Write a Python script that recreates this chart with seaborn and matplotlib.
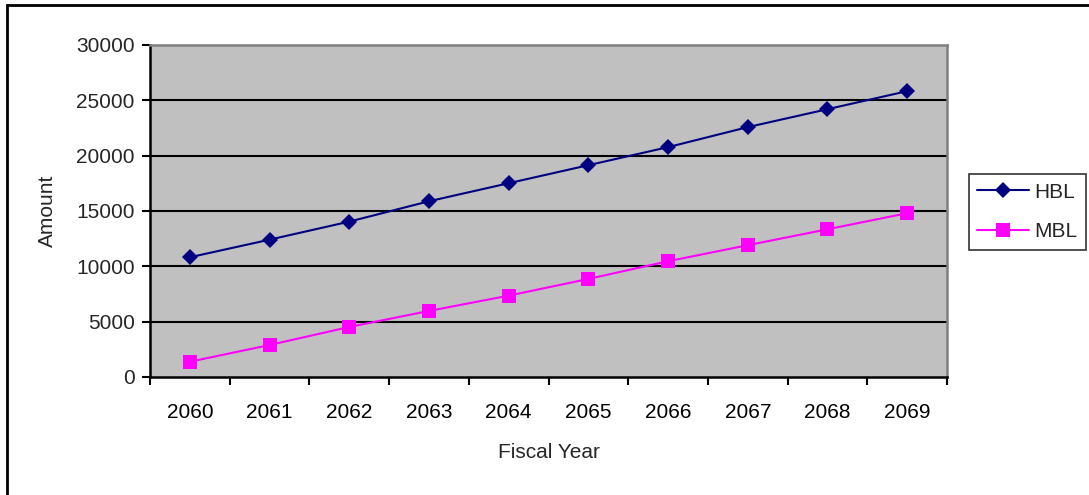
import matplotlib
matplotlib.use("Agg")
import matplotlib.pyplot as plt
from matplotlib.patches import Rectangle
from matplotlib.ticker import FixedLocator
import numpy as np
import pandas as pd
import seaborn as sns

years = [2060, 2061, 2062, 2063, 2064, 2065, 2066, 2067, 2068, 2069]
hbl = [10820, 12410, 14040, 15880, 17510, 19140, 20770, 22580, 24200, 25830]
mbl = [1380, 2890, 4520, 5970, 7350, 8860, 10460, 11910, 13350, 14800]
series_names = ["HBL", "MBL"]
y_ticks = [0, 5000, 10000, 15000, 20000, 25000, 30000]

sns.set_theme(style="white")
plt.rcParams["font.family"] = ["Liberation Sans", "DejaVu Sans"]
FS = 15

pos = np.arange(len(years))
df = pd.DataFrame({
    "pos": np.concatenate([pos, pos]),
    "Amount": hbl + mbl,
    "series": [series_names[0]] * len(years) + [series_names[1]] * len(years),
})

fig = plt.figure(figsize=(10.89, 4.95), dpi=100)
ax = fig.add_axes([150 / 1089, 1 - 377 / 495, 797 / 1089, 332 / 495])
ax.set_facecolor("#C0C0C0")

sns.lineplot(
    data=df, x="pos", y="Amount", hue="series", style="series",
    palette={"HBL": "#000080", "MBL": "#FF00FF"},
    markers={"HBL": "D", "MBL": "s"}, dashes=False,
    markersize=8, linewidth=1.5, markeredgewidth=0, ax=ax, legend=True,
)
# slightly larger squares for the MBL series
for line in ax.lines:
    if line.get_marker() == "s":
        line.set_markersize(9.5)

ax.set_xlim(-0.5, len(years) - 0.5)
ax.set_ylim(0, 30000)
ax.set_yticks(y_ticks)
ax.set_yticklabels([str(v) for v in y_ticks], fontsize=FS)
ax.set_xticks(pos)
ax.set_xticklabels([str(y) for y in years], fontsize=FS)
ax.xaxis.set_minor_locator(FixedLocator(np.arange(-0.5, len(years), 1.0)))
ax.tick_params(axis="x", which="major", length=0, pad=19, colors="black")
ax.tick_params(axis="x", which="minor", length=6, width=1.5, direction="out", color="black", bottom=True)
ax.tick_params(axis="y", length=6, width=1.5, direction="out", color="black", left=True, pad=5)

for y in y_ticks[1:-1]:
    ax.axhline(y, color="black", linewidth=1.5, zorder=1)

ax.spines["left"].set_color("black")
ax.spines["left"].set_linewidth(1.8)
ax.spines["bottom"].set_color("black")
ax.spines["bottom"].set_linewidth(1.8)
ax.spines["top"].set_color("#808080")
ax.spines["top"].set_linewidth(1.8)
ax.spines["right"].set_color("#808080")
ax.spines["right"].set_linewidth(1.8)

ax.set_xlabel("Fiscal Year", fontsize=FS, labelpad=15)
ax.set_ylabel("Amount", fontsize=FS, labelpad=14)

handles, labels = ax.get_legend_handles_labels()
for h in handles:
    if h.get_marker() == "s":
        h.set_markersize(9.5)
leg = ax.legend(
    handles, labels, loc="center left", bbox_to_anchor=(969 / 1089, 1 - 212 / 495),
    bbox_transform=fig.transFigure, frameon=True, fancybox=False, fontsize=FS,
    handlelength=2.5, borderpad=0.4, labelspacing=1.0, handletextpad=0.25,
    borderaxespad=0,
)
leg.get_frame().set_edgecolor("black")
leg.get_frame().set_linewidth(1.2)

# outer chart border
fig.patches.append(Rectangle((7 / 1089, -0.02), 1.05, 1 - 5 / 495 + 0.02,
                             transform=fig.transFigure, fill=False,
                             edgecolor="black", linewidth=2, clip_on=False))

fig.savefig("out.png", dpi=100, facecolor="white")
